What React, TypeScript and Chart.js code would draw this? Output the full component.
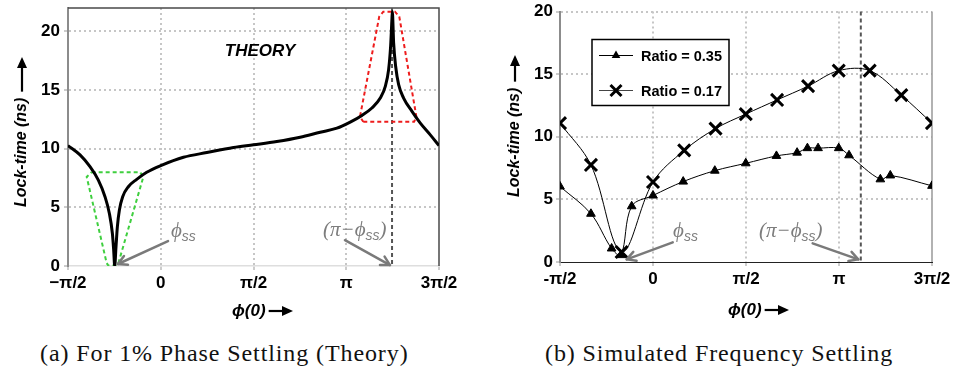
import React, { useEffect, useRef } from 'react';
import { Chart, registerables } from 'chart.js';

Chart.register(...registerables);

const PI = Math.PI;

// ---- axis ticks ----
const X_TICK_VALUES = [-PI / 2, 0, PI / 2, PI, (3 * PI) / 2];
const X_TICK_LABELS_A = ['−π/2', '0', 'π/2', 'π', '3π/2'];
const X_TICK_LABELS_B = ['-π/2', '0', 'π/2', 'π', '3π/2'];
const Y_TICK_VALUES = [0, 5, 10, 15, 20];

// ---- (a) theory curve ----
const THEORY_PHI = [
  -1.571, -1.367, -1.198, -1.057, -0.944, -0.87, -0.819, -0.797, -0.78,
  -0.758, -0.735, -0.701, -0.645, -0.549, -0.407, -0.238, 0.0, 0.384, 0.78,
  1.232, 1.571, 1.966, 2.361, 2.7, 2.983, 3.209, 3.407, 3.576, 3.718, 3.803,
  3.859, 3.893, 3.915, 3.922, 3.944, 3.978, 4.029, 4.113, 4.255, 4.396, 4.565,
  4.712,
];
const THEORY_LOCK = [
  10.27, 9.47, 8.47, 7.33, 5.91, 4.48, 2.77, 1.34, 0.0,
  1.63, 3.34, 4.76, 5.91, 6.76, 7.39, 7.99, 8.56, 9.27, 9.67,
  10.1, 10.33, 10.61, 10.98, 11.41, 11.75, 12.27, 12.84, 13.47, 14.32, 15.32,
  16.75, 18.74, 21.03, 21.7, 19.03, 17.03, 15.46, 14.32, 13.18, 12.18, 11.18,
  10.27,
];

// highlight outlines (a)
const GREEN_PHI = [-1.17, -0.35, -0.295, -0.72, -0.75, -0.89, -0.916, -1.254, -1.17];
const GREEN_LOCK = [8.0, 8.0, 7.6, 0.2, 0.05, 0.05, 0.25, 7.6, 8.0];
const RED_PHI = [3.43, 4.29, 4.33, 4.04, 3.967, 3.769, 3.7, 3.374, 3.43];
const RED_LOCK = [12.3, 12.3, 12.7, 21.26, 21.69, 21.69, 21.26, 12.73, 12.3];

const PI_MINUS_PHI_SS_A = 3.917;

// ---- (b) simulated ----
const SIM_PHI_035 = [
  -1.571, -1.048, -0.699, -0.54, -0.36, 0.0, 0.51, 1.044, 1.567, 2.085,
  2.434, 2.608, 2.788, 3.137, 3.311, 3.84, 4.008, 4.712,
];
const SIM_LOCK_035 = [
  6.03, 3.85, 1.08, 0.55, 4.45, 5.31, 6.42, 7.29, 7.88, 8.47,
  8.73, 9.09, 9.09, 9.09, 8.52, 6.6, 6.91, 6.08,
];
const SIM_PHI_017 = [
  -1.571, -1.048, -0.53, 0.0, 0.527, 1.056, 1.567, 2.096, 2.619, 3.137,
  3.66, 4.194, 4.712,
];
const SIM_LOCK_017 = [
  11.09, 7.75, 0.8, 6.39, 8.91, 10.65, 11.81, 12.94, 14.04, 15.28,
  15.28, 13.32, 11.09,
];
const PI_MINUS_PHI_SS_B = 3.51;

const GRAY_TXT = '#7d7d7d';
const SANS = '"Liberation Sans", Arial, sans-serif';
const SERIF = '"Liberation Serif", "Times New Roman", serif';
const PHI = 'ϕ';

const pts = (xs: number[], ys: number[]) => xs.map((x, i) => ({ x, y: ys[i] }));

function drawArrow(ctx: CanvasRenderingContext2D, x1: number, y1: number, x2: number, y2: number) {
  ctx.save();
  ctx.strokeStyle = '#7a7a7a';
  ctx.lineWidth = 2.5;
  ctx.lineCap = 'round';
  ctx.lineJoin = 'round';
  ctx.beginPath();
  ctx.moveTo(x1, y1);
  ctx.lineTo(x2, y2);
  ctx.stroke();
  const a = Math.atan2(y2 - y1, x2 - x1);
  const h = 10;
  ctx.beginPath();
  ctx.moveTo(x2 - h * Math.cos(a - 0.5), y2 - h * Math.sin(a - 0.5));
  ctx.lineTo(x2, y2);
  ctx.lineTo(x2 - h * Math.cos(a + 0.5), y2 - h * Math.sin(a + 0.5));
  ctx.stroke();
  ctx.restore();
}

function drawPhiLabel(ctx: CanvasRenderingContext2D, x: number, y: number, withPi: boolean) {
  ctx.save();
  ctx.fillStyle = GRAY_TXT;
  ctx.textBaseline = 'alphabetic';
  ctx.textAlign = 'left';
  const serif = `italic 21px ${SERIF}`;
  let cx = x;
  ctx.font = serif;
  if (withPi) {
    ctx.fillText('(π−', cx, y);
    cx += ctx.measureText('(π−').width;
  }
  ctx.fillText(PHI, cx, y);
  cx += ctx.measureText(PHI).width;
  ctx.font = `italic 14px ${SANS}`;
  ctx.fillText('ss', cx, y + 4);
  cx += ctx.measureText('ss').width;
  if (withPi) {
    ctx.font = serif;
    ctx.fillText(')', cx, y);
  }
  ctx.restore();
}

// arrow along +x starting at a0 with given length (in current transform)
function drawTitleArrow(ctx: CanvasRenderingContext2D, a0: number, len: number, cy: number) {
  const a1 = a0 + len;
  ctx.strokeStyle = '#000';
  ctx.fillStyle = '#000';
  ctx.lineWidth = 2.2;
  ctx.beginPath();
  ctx.moveTo(a0, cy);
  ctx.lineTo(a1 - 8, cy);
  ctx.stroke();
  ctx.beginPath();
  ctx.moveTo(a1, cy);
  ctx.lineTo(a1 - 11, cy - 5);
  ctx.lineTo(a1 - 11, cy + 5);
  ctx.closePath();
  ctx.fill();
}

function drawYTitle(ctx: CanvasRenderingContext2D, cx: number, bottom: number, top: number) {
  ctx.save();
  ctx.translate(cx, bottom);
  ctx.rotate(-PI / 2);
  ctx.fillStyle = '#000';
  ctx.textAlign = 'left';
  ctx.textBaseline = 'middle';
  ctx.font = `italic bold 16px ${SANS}`;
  const t = 'Lock-time (ns)';
  ctx.fillText(t, 0, 0);
  const w = ctx.measureText(t).width;
  const a0 = w + 6;
  drawTitleArrow(ctx, a0, bottom - top - a0, 0);
  ctx.restore();
}

function drawXTitle(ctx: CanvasRenderingContext2D, left: number, right: number, cy: number) {
  ctx.save();
  ctx.fillStyle = '#000';
  ctx.textAlign = 'left';
  ctx.textBaseline = 'middle';
  ctx.font = `italic bold 17px ${SANS}`;
  const t = PHI + '(0)';
  ctx.fillText(t, left, cy);
  const w = ctx.measureText(t).width;
  const a0 = left + w + 3;
  drawTitleArrow(ctx, a0, Math.max(right - a0, 20), cy);
  ctx.restore();
}

const annotA = {
  id: 'annotA',
  beforeDatasetsDraw(chart: any) {
    const { ctx, chartArea: ca, scales } = chart;
    ctx.save();
    ctx.strokeStyle = '#4a4a4a';
    ctx.lineWidth = 1.5;
    ctx.beginPath();
    ctx.moveTo(ca.left, ca.top);
    ctx.lineTo(ca.right, ca.top);
    ctx.lineTo(ca.right, ca.bottom);
    ctx.stroke();
    const px = scales.x.getPixelForValue(PI_MINUS_PHI_SS_A);
    ctx.setLineDash([4, 3]);
    ctx.strokeStyle = '#555';
    ctx.lineWidth = 2;
    ctx.beginPath();
    ctx.moveTo(px, ca.top);
    ctx.lineTo(px, ca.bottom);
    ctx.stroke();
    ctx.restore();
  },
  afterDraw(chart: any) {
    const { ctx, scales } = chart;
    const X = (v: number) => scales.x.getPixelForValue(v);
    const Y = (v: number) => scales.y.getPixelForValue(v);
    ctx.save();
    ctx.fillStyle = '#000';
    ctx.font = `italic bold 17px ${SANS}`;
    ctx.textAlign = 'center';
    ctx.textBaseline = 'middle';
    ctx.fillText('THEORY', X(1.681), Y(18.33));
    ctx.restore();
    drawArrow(ctx, X(0.123), Y(2.13), X(-0.724), Y(0.17));
    drawPhiLabel(ctx, X(0.173), Y(2.47), false);
    drawArrow(ctx, X(3.12), Y(2.2), X(3.882), Y(0.08));
    drawPhiLabel(ctx, X(2.748), Y(2.56), true);
    drawYTitle(ctx, 22, 207, 57);
    drawXTitle(ctx, 232, 293, 311);
  },
};

const annotB = {
  id: 'annotB',
  beforeDatasetsDraw(chart: any) {
    const { ctx, chartArea: ca, scales } = chart;
    ctx.save();
    ctx.strokeStyle = '#999';
    ctx.lineWidth = 1.5;
    ctx.beginPath();
    ctx.moveTo(ca.right, ca.top);
    ctx.lineTo(ca.right, ca.bottom);
    ctx.stroke();
    const px = scales.x.getPixelForValue(PI_MINUS_PHI_SS_B);
    ctx.setLineDash([4, 3]);
    ctx.strokeStyle = '#555';
    ctx.lineWidth = 2;
    ctx.beginPath();
    ctx.moveTo(px, ca.top);
    ctx.lineTo(px, ca.bottom);
    ctx.stroke();
    ctx.restore();
  },
  afterDraw(chart: any) {
    const { ctx, scales, chartArea: ca } = chart;
    const X = (v: number) => scales.x.getPixelForValue(v);
    const Y = (v: number) => scales.y.getPixelForValue(v);
    drawArrow(ctx, X(0.333), Y(1.57), X(-0.444), Y(0.21));
    drawPhiLabel(ctx, X(0.338), Y(2.0), false);
    drawArrow(ctx, X(2.697), Y(1.49), X(3.467), Y(0.21));
    drawPhiLabel(ctx, X(1.79), Y(2.0), true);

    // legend
    const bx = ca.left + 32;
    const by = ca.top + 28;
    const bw = 137;
    const bh = 66;
    ctx.save();
    ctx.fillStyle = '#fff';
    ctx.fillRect(bx, by, bw, bh);
    ctx.strokeStyle = '#000';
    ctx.lineWidth = 1.5;
    ctx.strokeRect(bx, by, bw, bh);
    const ds = chart.data.datasets;
    const rows = [by + 16, by + 51];
    rows.forEach((ry: number, i: number) => {
      ctx.strokeStyle = i === 0 ? '#000' : '#444';
      ctx.lineWidth = 1;
      ctx.beginPath();
      ctx.moveTo(bx + 7, ry);
      ctx.lineTo(bx + 41, ry);
      ctx.stroke();
      const mx = bx + 24;
      if (i === 0) {
        const r = 5;
        ctx.fillStyle = '#000';
        ctx.beginPath();
        ctx.moveTo(mx, ry - r);
        ctx.lineTo(mx + r * 0.866, ry + r * 0.5);
        ctx.lineTo(mx - r * 0.866, ry + r * 0.5);
        ctx.closePath();
        ctx.fill();
      } else {
        const r = 5.5;
        ctx.strokeStyle = '#000';
        ctx.lineWidth = 3;
        ctx.beginPath();
        ctx.moveTo(mx - r, ry - r);
        ctx.lineTo(mx + r, ry + r);
        ctx.moveTo(mx + r, ry - r);
        ctx.lineTo(mx - r, ry + r);
        ctx.stroke();
      }
      ctx.fillStyle = '#000';
      ctx.font = `bold 14.5px ${SANS}`;
      ctx.textAlign = 'left';
      ctx.textBaseline = 'middle';
      ctx.fillText(ds[i].label, bx + 49, ry + 1);
    });
    ctx.restore();
    drawYTitle(ctx, 515 - 478, 197, 55);
    drawXTitle(ctx, 728 - 478, 789 - 478, 310);
  },
};

const gridColorX = (c: any) =>
  c.tick && (Math.abs(c.tick.value - X_TICK_VALUES[0]) < 1e-6 || Math.abs(c.tick.value - X_TICK_VALUES[4]) < 1e-6)
    ? 'rgba(0,0,0,0)'
    : '#c6c6c6';
const gridColorY = (c: any) => (c.tick && c.tick.value === 0 ? 'rgba(0,0,0,0)' : '#c6c6c6');

function makeScales(opts: {
  labels: string[];
  yMax: number;
  xHeight: number;
  yWidth: number;
  yBorderColor: string;
  xBorderColor: string;
  xBorderWidth: number;
  yPad: number;
}) {
  const tickFont = { family: SANS, size: 17, weight: 'bold' as const };
  return {
    x: {
      type: 'linear' as const,
      min: -PI / 2,
      max: (3 * PI) / 2,
      afterBuildTicks: (s: any) => {
        s.ticks = X_TICK_VALUES.map((v) => ({ value: v }));
      },
      afterFit: (s: any) => {
        s.height = opts.xHeight;
        s.paddingLeft = 0;
        s.paddingRight = 0;
      },
      ticks: {
        autoSkip: false,
        maxRotation: 0,
        padding: 3,
        color: '#000',
        font: tickFont,
        callback: (v: number) => {
          const i = X_TICK_VALUES.findIndex((t) => Math.abs(t - v) < 1e-6);
          return i >= 0 ? opts.labels[i] : '';
        },
      },
      grid: {
        color: gridColorX,
        lineWidth: 2,
        drawTicks: true,
        tickLength: 4,
        tickColor: '#999',
        tickWidth: 1,
      },
      border: { display: true, color: opts.xBorderColor, width: opts.xBorderWidth, dash: [2, 3] },
    },
    y: {
      type: 'linear' as const,
      min: 0,
      max: opts.yMax,
      afterBuildTicks: (s: any) => {
        s.ticks = Y_TICK_VALUES.map((v) => ({ value: v }));
      },
      afterFit: (s: any) => {
        s.width = opts.yWidth;
        s.paddingTop = 0;
        s.paddingBottom = 0;
      },
      ticks: {
        padding: opts.yPad,
        color: '#000',
        font: tickFont,
      },
      grid: {
        color: gridColorY,
        lineWidth: 2,
        drawTicks: true,
        tickLength: 4,
        tickColor: '#999',
        tickWidth: 1,
      },
      border: { display: true, color: opts.yBorderColor, width: 2, dash: [2, 3] },
    },
  };
}

function ChartA() {
  const ref = useRef<HTMLCanvasElement>(null);
  useEffect(() => {
    if (!ref.current) return;
    const chart = new Chart(ref.current, {
      type: 'line',
      data: {
        datasets: [
          {
            label: 'Theory',
            data: pts(THEORY_PHI, THEORY_LOCK),
            borderColor: '#000',
            borderWidth: 3,
            pointRadius: 0,
            cubicInterpolationMode: 'monotone',
            order: 0,
          },
          {
            label: 'green',
            data: pts(GREEN_PHI, GREEN_LOCK),
            borderColor: '#3fcf3f',
            borderWidth: 2,
            borderDash: [4, 3],
            pointRadius: 0,
            tension: 0,
            order: 1,
          },
          {
            label: 'red',
            data: pts(RED_PHI, RED_LOCK),
            borderColor: '#ee1c1c',
            borderWidth: 2,
            borderDash: [4, 3],
            pointRadius: 0,
            tension: 0,
            order: 1,
          },
        ],
      } as any,
      options: {
        animation: false,
        responsive: false,
        events: [],
        layout: { padding: { left: 0, right: 39, top: 8, bottom: 0 } },
        plugins: { legend: { display: false }, tooltip: { enabled: false } },
        scales: makeScales({
          labels: X_TICK_LABELS_A,
          yMax: 22,
          xHeight: 64,
          yWidth: 68,
          yBorderColor: '#8c8c8c',
          xBorderColor: '#dedede',
          xBorderWidth: 1.5,
          yPad: 4,
        }) as any,
      },
      plugins: [annotA],
    });
    return () => chart.destroy();
  }, []);
  return <canvas ref={ref} width={478} height={330} style={{ position: 'absolute', left: 0, top: 0, width: 478, height: 330 }} />;
}

function ChartB() {
  const ref = useRef<HTMLCanvasElement>(null);
  useEffect(() => {
    if (!ref.current) return;
    const chart = new Chart(ref.current, {
      type: 'line',
      data: {
        datasets: [
          {
            label: 'Ratio = 0.35',
            data: pts(SIM_PHI_035, SIM_LOCK_035),
            borderColor: '#000',
            backgroundColor: '#000',
            borderWidth: 1,
            pointStyle: 'triangle',
            pointRadius: 5,
            pointBorderWidth: 1,
            tension: 0.35,
          },
          {
            label: 'Ratio = 0.17',
            data: pts(SIM_PHI_017, SIM_LOCK_017),
            borderColor: '#000',
            backgroundColor: '#000',
            borderWidth: 1,
            pointStyle: 'crossRot',
            pointRadius: 8.5,
            pointBorderWidth: 3,
            tension: 0.35,
          },
        ],
      } as any,
      options: {
        animation: false,
        responsive: false,
        events: [],
        layout: { padding: { left: 0, right: 24, top: 3, bottom: 0 } },
        plugins: { legend: { display: false }, tooltip: { enabled: false } },
        scales: makeScales({
          labels: X_TICK_LABELS_B,
          yMax: 20,
          xHeight: 68,
          yWidth: 82,
          yBorderColor: '#8c8c8c',
          xBorderColor: '#222',
          xBorderWidth: 1,
          yPad: 3,
        }) as any,
      },
      plugins: [annotB],
    });
    return () => chart.destroy();
  }, []);
  return <canvas ref={ref} width={478} height={330} style={{ position: 'absolute', left: 478, top: 0, width: 478, height: 330 }} />;
}

export default function App() {
  const cap: React.CSSProperties = {
    position: 'absolute',
    top: 339,
    font: `24px ${SERIF}`,
    lineHeight: '28px',
    letterSpacing: '0.9px',
    whiteSpace: 'nowrap',
    color: '#111',
  };
  return (
    <div style={{ position: 'fixed', left: 0, top: 0, width: 956, height: 376, background: '#fff', overflow: 'hidden' }}>
      <ChartA />
      <ChartB />
      <div style={{ ...cap, left: 40 }}>(a) For 1% Phase Settling (Theory)</div>
      <div style={{ ...cap, left: 545 }}>(b) Simulated Frequency Settling</div>
    </div>
  );
}
